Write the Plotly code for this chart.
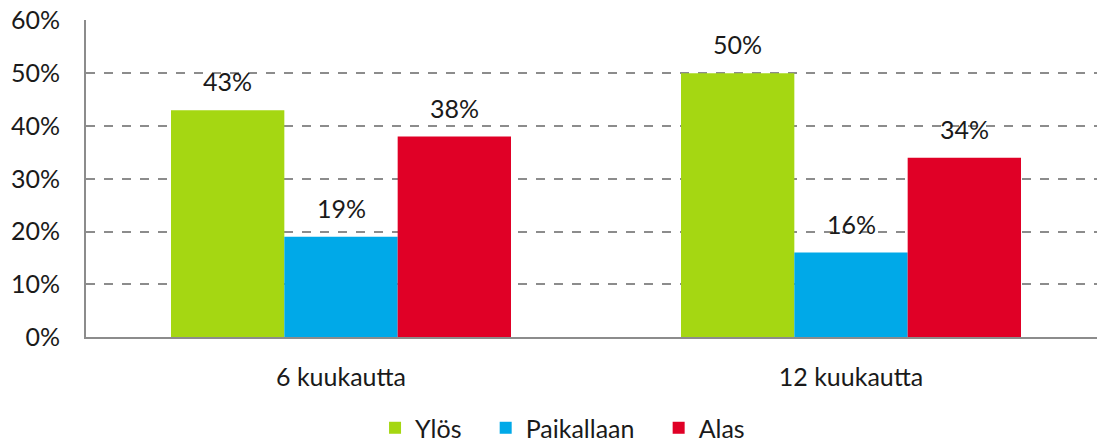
import plotly.graph_objects as go

categories = ["6 kuukautta", "12 kuukautta"]
series_names = ["Ylös", "Paikallaan", "Alas"]
ylos = [43, 50]
paikallaan = [19, 16]
alas = [38, 34]
y_ticks = [0, 10, 20, 30, 40, 50, 60]

colors = ["#A5D712", "#00A9E8", "#E00026"]
font_family = "Lato, 'Noto Sans', sans-serif"
text_color = "#1a1a1a"
grid_color = "#8c8c8c"
fsize = 25

W, H = 1097, 444
ML, MT, MB = 86, 20, 107

fig = go.Figure()
pad = "\u00a0" * 3
for k, (name, vals, col) in enumerate(zip(series_names, [ylos, paikallaan, alas], colors)):
    fig.add_trace(go.Bar(name=name + (pad if k < 2 else ""), x=categories, y=vals,
                         marker_color=col, marker_line_width=0))

# value labels above bars
plot_w = W - ML
x_range = [-0.5, -0.5 + plot_w / 510]
bargap = 1 / 3
unit_px = plot_w / (x_range[1] - x_range[0])
bar_px = (1 - bargap) / 3 * unit_px
for i, vals in enumerate([ylos, paikallaan, alas]):
    for cat, v in zip(categories, vals):
        fig.add_annotation(x=cat, y=v, text=f"{v}%", showarrow=False,
                           xshift=(i - 1) * bar_px, yshift=29,
                           font=dict(size=fsize, color=text_color, family=font_family))

fig.update_layout(
    width=W, height=H,
    margin=dict(l=ML, r=0, t=MT, b=MB, autoexpand=False),
    plot_bgcolor="white", paper_bgcolor="white",
    barmode="group", bargap=bargap, bargroupgap=0,
    font=dict(family=font_family, size=fsize, color=text_color),
    showlegend=True,
    legend=dict(orientation="h", x=0.5128, xanchor="center", xref="container",
                y=0.036, yanchor="middle", yref="container",
                font=dict(size=fsize), itemwidth=30, traceorder="normal"),
)
fig.update_xaxes(range=x_range, showline=True, linecolor=grid_color, linewidth=2,
                 ticks="", showgrid=False, tickfont=dict(size=fsize),
                 ticklabelstandoff=17, automargin=False)
fig.update_yaxes(range=[0, 60.1], tickvals=y_ticks, ticktext=[f"{t}%" for t in y_ticks],
                 showline=True, linecolor=grid_color, linewidth=2,
                 showgrid=True, gridcolor=grid_color, gridwidth=1.5, griddash="dash",
                 zeroline=False, ticks="", ticklabelstandoff=19, tickfont=dict(size=fsize),
                 ticklabeloverflow="allow", automargin=False)

# drop the default body margin so the figure fills the window
fig.write_html("out.html", config={"displayModeBar": False},
               post_script="document.body.style.margin = '0';")
